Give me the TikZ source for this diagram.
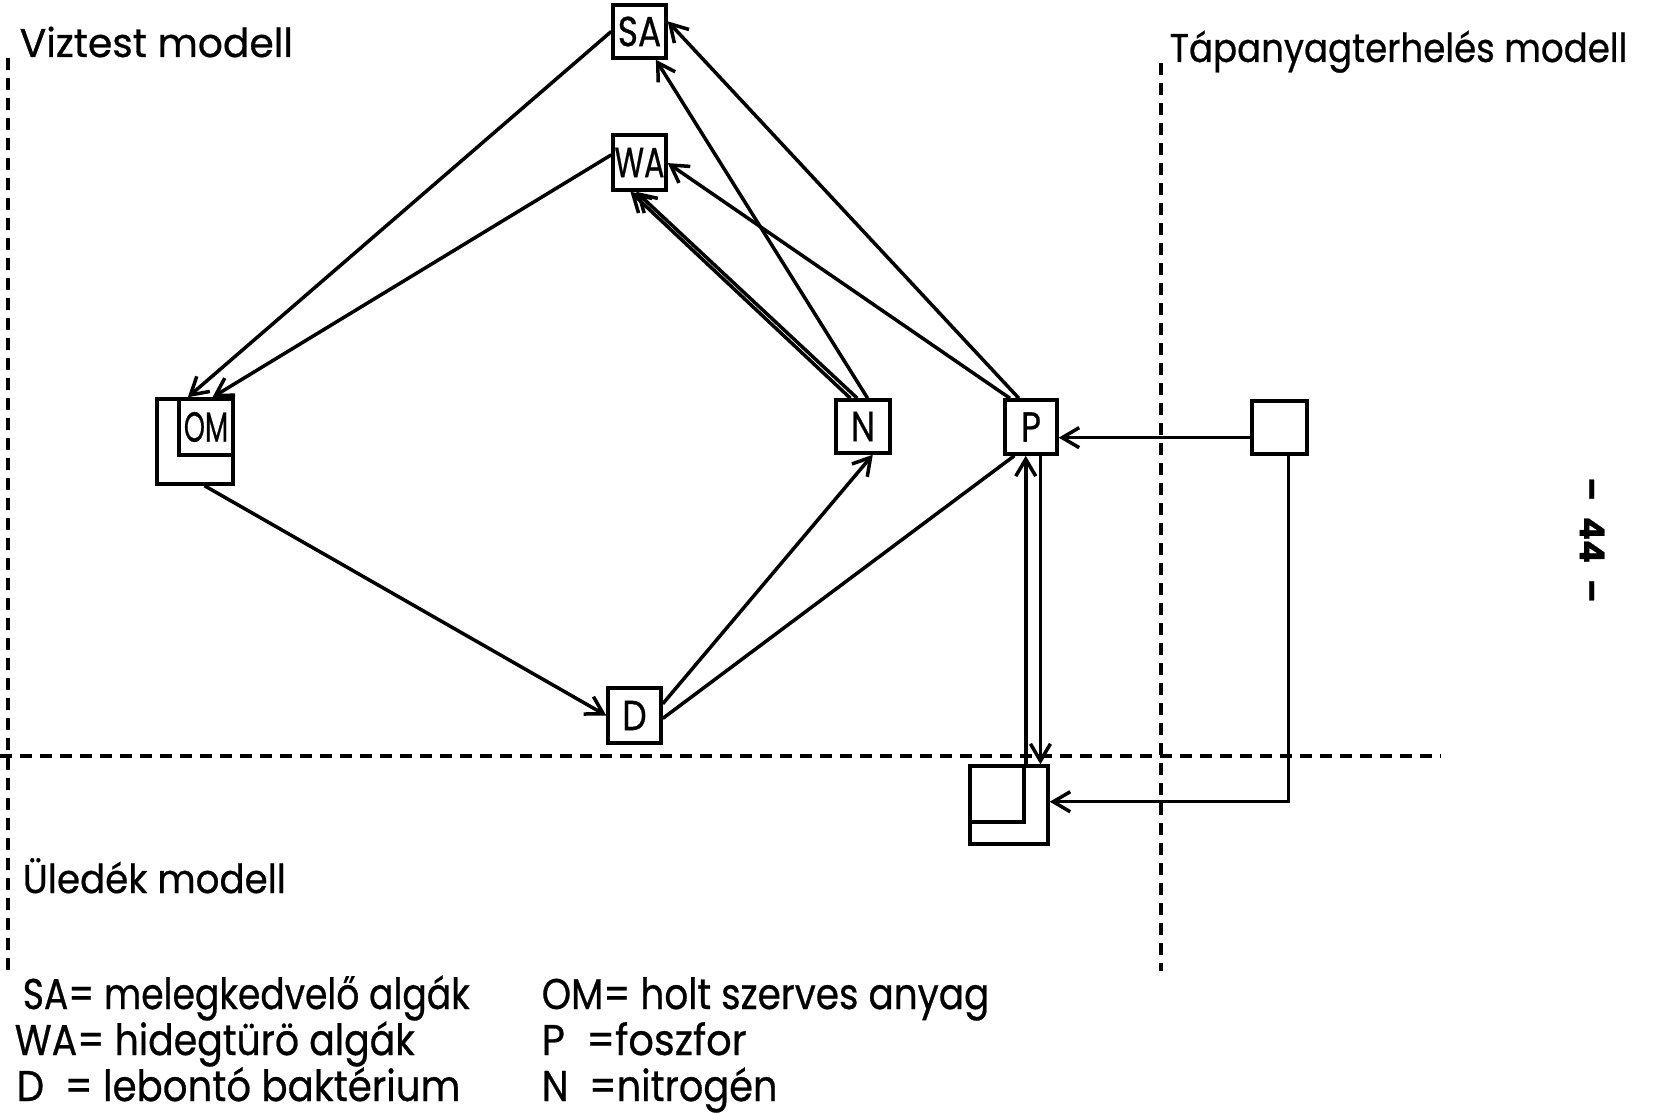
\documentclass[tikz,border=0pt]{standalone}
\usepackage{fontspec}
\usepackage{graphicx}
\setmainfont{Poppins}[FakeBold=0.7]
\usetikzlibrary{arrows.meta,calc}
\newcommand{\nx}[2][0.82]{\scalebox{#1}[1]{#2}}
\begin{document}
\begin{tikzpicture}[x=1pt,y=-1pt,
  line width=3.5pt,
  box/.style 2 args={draw, line width=3.5pt, inner sep=0pt, minimum width=#1pt, minimum height=#2pt, font=\fontsize{42}{42}\selectfont},
  arr/.style={-{Straight Barb[length=17pt,width=20pt]}},
  dsh/.style={line width=3.2pt, dash pattern=on 12pt off 8pt},
  lbl/.style={anchor=base west, inner sep=0pt, font=\fontsize{40}{44}\selectfont},
  leg/.style={anchor=base west, inner sep=0pt, font=\fontsize{43}{44}\selectfont}]
\useasboundingbox (0,0) rectangle (1655,1115);
% dashed region borders
\draw[dsh] (8,58) -- (8,970);
\draw[dsh] (0,756) -- (1441,756);
\draw[dsh] (1161,63) -- (1161,971);
% region labels
\node[lbl] (lv) at (18,57) {\nx[0.98]{Viztest modell}};
\node[lbl] (lt) at (1168,62) {\nx[0.89]{Tápanyagterhelés modell}};
\node[lbl] (lu) at (21,893) {\nx[0.93]{Üledék modell}};
% boxes
\node[box={53}{53}] (SA) at (639.5,31.5) {\nx{SA}};
\node[box={53}{55}] (WA) at (639.5,162.5) {\nx[0.72]{WA}};
\node[box={76}{85}] (OM) at (195,441.5) {};
\node[box={54}{56}] (OMi) at (206,427) {\nx[0.64]{OM}};
\node[box={54}{53}] (N) at (863,426.5) {\nx{N}};
\node[box={52}{54}] (P) at (1031,427) {\nx{P}};
\node[box={55}{53}] (T) at (1279.5,427.5) {};
\node[box={78}{78}] (S) at (1009,805) {};
\node[box={54}{56}] (Si) at (997,794) {};
\node[box={53}{55}] (D) at (634.5,715.5) {\nx{D}};
% connectors
\draw[arr] (SA.west) -- ($(OM.north west)!0.41!(OM.north east)$);
\draw[arr] ($(WA.north west)!0.37!(WA.south west)$) -- ($(OM.north west)!0.72!(OM.north east)$);
\draw[arr] ($(N.north west)!0.58!(N.north east)$) -- ($(SA.south west)!0.79!(SA.south east)$);
\draw[arr] ($(N.north west)!0.40!(N.north east)$) -- ($(WA.south west)!0.44!(WA.south east)$);
\draw[arr] ($(N.north west)!0.28!(N.north east)$) -- ($(WA.south west)!0.34!(WA.south east)$);
\draw[arr] ($(P.north west)!0.28!(P.north east)$) -- ($(SA.north east)!0.32!(SA.south east)$);
\draw[arr] ($(P.north west)!0.12!(P.north east)$) -- ($(WA.north east)!0.51!(WA.south east)$);
\draw[arr] ($(OM.south west)!0.62!(OM.south east)$) -- (D.west);
\draw[arr] ($(D.north east)!0.3!(D.south east)$) -- ($(N.south west)!0.67!(N.south east)$);
\draw ($(D.north east)!0.55!(D.south east)$) -- ($(P.south west)!0.2!(P.south east)$);
\coordinate (t1) at ($(T.north west)!0.68!(T.south west)$);
\draw[arr] (t1) -- (t1 -| P.east);
\draw[arr] ($(T.south west)!0.65!(T.south east)$) |- ($(S.north east)!0.46!(S.south east)$);
\draw[arr] (Si.north east) -- (Si.north east |- P.south);
\coordinate (p2) at ($(P.south west)!0.67!(P.south east)$);
\draw[arr] (p2) -- (p2 |- S.north);
% page number
\node[rotate=-90, font=\fontsize{34}{34}\selectfont\bfseries] (pg) at (1592,540) {–\hspace{16pt}44\hspace{16pt}–};
% legend
\node[leg] (l1) at (21,1009) {\nx[0.84]{SA= melegkedvelő algák}};
\node[leg] (l2) at (13,1055) {\nx[0.88]{WA= hidegtürö algák}};
\node[leg] (l3) at (15,1101) {\nx[0.9]{D\ \ = lebontó baktérium}};
\node[leg] (l4) at (540,1009) {\nx[0.87]{OM= holt szerves anyag}};
\node[leg] (l5) at (540,1055) {\nx[0.93]{P\ \ =foszfor}};
\node[leg] (l6) at (540,1101) {\nx[0.89]{N\ \ =nitrogén}};
\end{tikzpicture}
\end{document}
